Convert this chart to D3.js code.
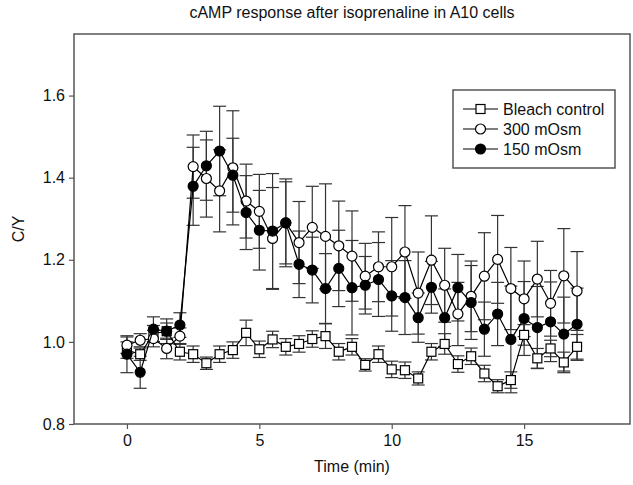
<!DOCTYPE html>
<html><head><meta charset="utf-8">
<script src="https://cdn.jsdelivr.net/npm/d3@7"></script>
<style>body{margin:0;background:#fff} text{font-family:"Liberation Sans",Arial,sans-serif}</style>
</head><body><svg id="c" width="633" height="485"></svg>
<script>
const times = [0,0.5,1,1.5,2,2.5,3,3.5,4,4.5,5,5.5,6,6.5,7,7.5,8,8.5,9,9.5,10,10.5,11,11.5,12,12.5,13,13.5,14,14.5,15,15.5,16,16.5,17];
const bleach = [0.98,0.970,1.02,1.026,0.976,0.970,0.948,0.970,0.980,1.022,0.982,1.006,0.988,0.995,1.007,1.014,0.976,0.988,0.944,0.970,0.933,0.931,0.911,0.976,0.995,0.946,0.965,0.923,0.892,0.907,1.017,0.960,0.984,0.950,0.988];
const bleachErr = [0.02,0.015,0.02,0.02,0.02,0.02,0.015,0.02,0.02,0.031,0.02,0.02,0.02,0.02,0.02,0.03,0.02,0.02,0.015,0.02,0.02,0.02,0.016,0.02,0.025,0.02,0.02,0.02,0.016,0.02,0.025,0.024,0.02,0.025,0.03];
const osm300 = [0.992,1.004,1.008,0.984,1.014,1.427,1.398,1.368,1.424,1.343,1.318,1.252,1.290,1.242,1.279,1.257,1.234,1.209,1.160,1.183,1.183,1.219,1.119,1.199,1.138,1.068,1.111,1.160,1.201,1.130,1.105,1.153,1.094,1.161,1.124];
const osm300Err = [0.02,0.016,0.02,0.025,0.02,0.077,0.094,0.10,0.139,0.09,0.09,0.124,0.10,0.10,0.10,0.128,0.109,0.11,0.08,0.085,0.12,0.113,0.1,0.108,0.09,0.077,0.086,0.106,0.107,0.10,0.092,0.092,0.08,0.115,0.096];
const osm150 = [0.970,0.926,1.031,1.026,1.041,1.379,1.429,1.465,1.406,1.315,1.272,1.270,1.290,1.189,1.175,1.130,1.179,1.132,1.138,1.152,1.112,1.108,1.059,1.133,1.059,1.132,1.096,1.031,1.068,1.006,1.057,1.035,1.049,1.019,1.043];
const osm150Err = [0.045,0.039,0.03,0.03,0.03,0.095,0.084,0.109,0.09,0.09,0.097,0.14,0.107,0.081,0.08,0.085,0.093,0.115,0.07,0.09,0.086,0.09,0.06,0.063,0.07,0.081,0.09,0.066,0.077,0.13,0.09,0.1,0.097,0.09,0.088];
const xTicks = [0,5,10,15];
const yTicks = [0.8,1.0,1.2,1.4,1.6];
const seriesNames = ["Bleach control","300 mOsm","150 mOsm"];

const series = [
  {name:seriesNames[0], vals:bleach, err:bleachErr, shape:"square", fill:"#fff"},
  {name:seriesNames[1], vals:osm300, err:osm300Err, shape:"circle", fill:"#fff"},
  {name:seriesNames[2], vals:osm150, err:osm150Err, shape:"circle", fill:"#000"}
];

const svg = d3.select("#c");
const L=74, R=630, T=34, B=424;
const x = d3.scaleLinear([-2,19],[L,R]);
const y = d3.scaleLinear([0.8,1.75],[B,T]);

svg.append("text").attr("x",(L+R)/2).attr("y",18).attr("text-anchor","middle")
  .attr("font-size",16).attr("fill","#111").text("cAMP response after isoprenaline in A10 cells");

const gx = svg.append("g").attr("transform",`translate(0,${B})`)
  .call(d3.axisBottom(x).tickValues(xTicks).tickSize(5).tickSizeOuter(0).tickPadding(6));
const gy = svg.append("g").attr("transform",`translate(${L},0)`)
  .call(d3.axisLeft(y).tickValues(yTicks).tickFormat(d3.format(".1f")).tickSize(5).tickSizeOuter(0).tickPadding(4));
[gx,gy].forEach(g=>{
  g.select(".domain").remove();
  g.selectAll(".tick line").attr("stroke","#555").attr("stroke-width",1.2);
  g.selectAll(".tick text").attr("font-size",16).attr("fill","#111").style("font-family",'"Liberation Sans",Arial,sans-serif');
});
svg.append("rect").attr("x",L).attr("y",T).attr("width",R-L).attr("height",B-T)
  .attr("fill","none").attr("stroke","#555").attr("stroke-width",1.5);

svg.append("text").attr("x",(L+R)/2).attr("y",472).attr("text-anchor","middle")
  .attr("font-size",16).attr("fill","#111").text("Time (min)");
svg.append("text").attr("transform",`translate(24,${(T+B)/2}) rotate(-90)`).attr("text-anchor","middle")
  .attr("font-size",16).attr("fill","#111").text("C/Y");

const cap = 6.5;
const plot = svg.append("g");
series.forEach(s=>{
  const g = plot.append("g");
  times.forEach((t,i)=>{
    const cx = x(t), v = s.vals[i], e = s.err[i];
    g.append("line").attr("x1",cx).attr("x2",cx).attr("y1",y(v-e)).attr("y2",y(v+e)).attr("stroke","#333").attr("stroke-width",1.2);
    [v-e,v+e].forEach(yy=>g.append("line").attr("x1",cx-cap).attr("x2",cx+cap).attr("y1",y(yy)).attr("y2",y(yy)).attr("stroke","#333").attr("stroke-width",1.2));
  });
});
series.forEach(s=>{
  const g = plot.append("g");
  g.append("path").datum(times.map((t,i)=>[t,s.vals[i]]))
    .attr("d",d3.line().x(d=>x(d[0])).y(d=>y(d[1])))
    .attr("fill","none").attr("stroke","#000").attr("stroke-width",1.2);
  times.forEach((t,i)=>{
    const cx=x(t), cy=y(s.vals[i]);
    if(s.shape==="square") g.append("rect").attr("x",cx-4.5).attr("y",cy-4.5).attr("width",9).attr("height",9)
      .attr("fill",s.fill).attr("stroke","#000").attr("stroke-width",1.2);
    else g.append("circle").attr("cx",cx).attr("cy",cy).attr("r",5).attr("fill",s.fill).attr("stroke","#000").attr("stroke-width",1.2);
  });
});

const lg = svg.append("g");
lg.append("rect").attr("x",453).attr("y",90).attr("width",162).attr("height",78)
  .attr("fill","#fff").attr("stroke","#555").attr("stroke-width",1.5);
series.forEach((s,i)=>{
  const ly = 109 + i*20;
  lg.append("line").attr("x1",463).attr("x2",498).attr("y1",ly).attr("y2",ly).attr("stroke","#000").attr("stroke-width",1.2);
  if(s.shape==="square") lg.append("rect").attr("x",480.5-4.5).attr("y",ly-4.5).attr("width",9).attr("height",9)
      .attr("fill",s.fill).attr("stroke","#000").attr("stroke-width",1.2);
  else lg.append("circle").attr("cx",480.5).attr("cy",ly).attr("r",5).attr("fill",s.fill).attr("stroke","#000").attr("stroke-width",1.2);
  lg.append("text").attr("x",503).attr("y",ly+5.5).attr("font-size",16).attr("fill","#111").text(s.name);
});
</script></body></html>
